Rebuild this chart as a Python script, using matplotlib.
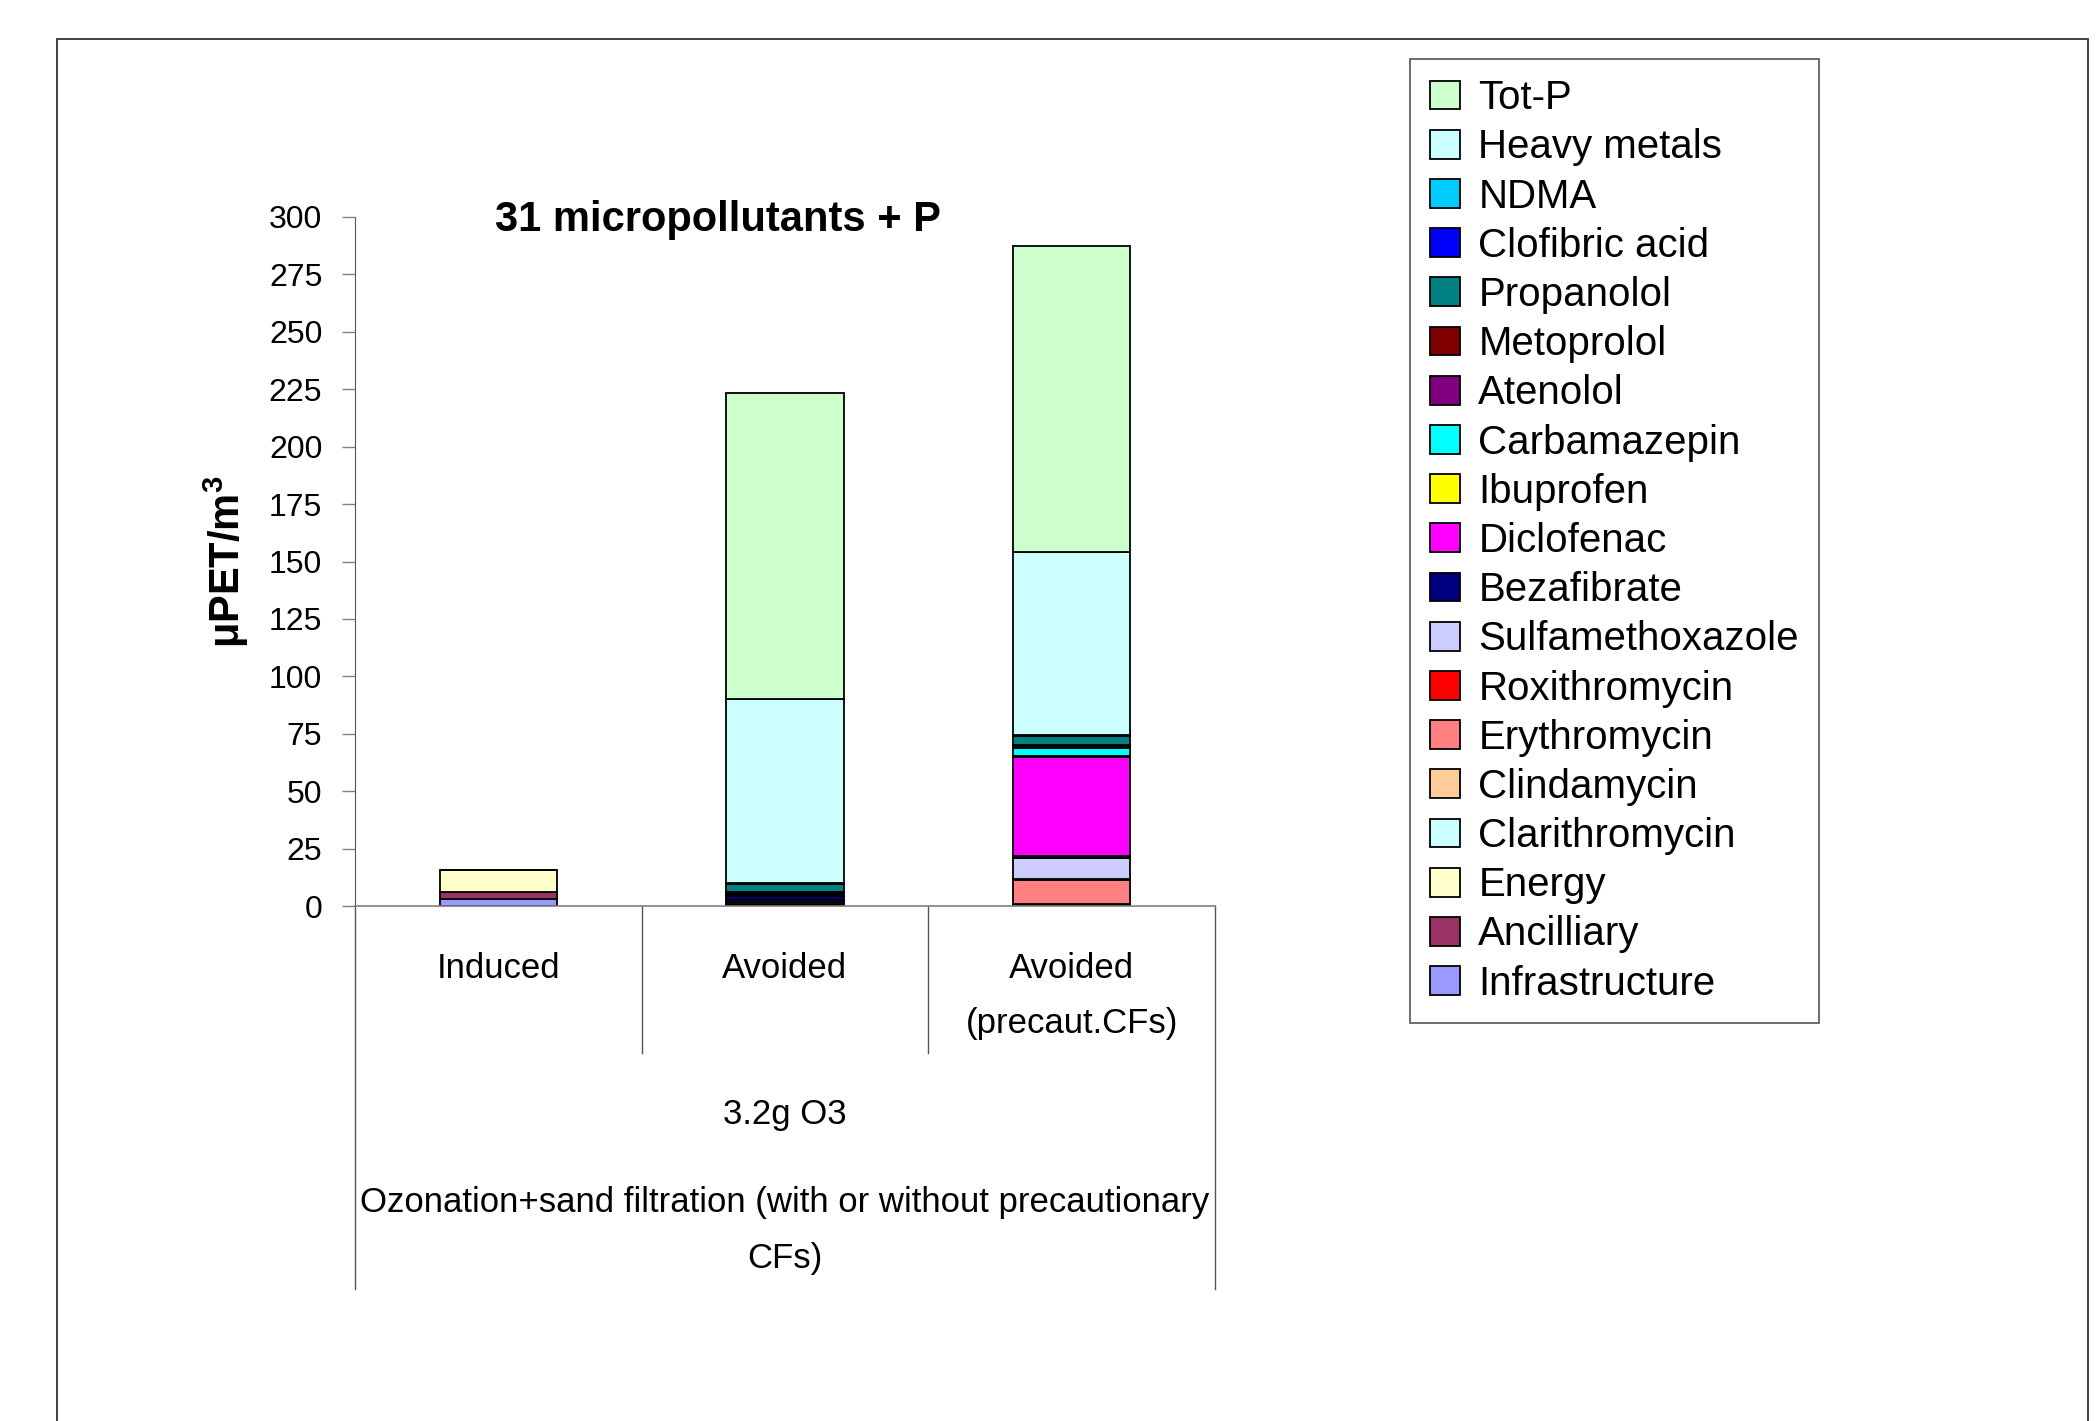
import numpy as np
import matplotlib.pyplot as plt
from matplotlib.patches import Rectangle

plt.rcParams['font.family'] = ['Liberation Sans', 'DejaVu Sans']
plt.rcParams['mathtext.fontset'] = 'custom'
plt.rcParams['mathtext.bf'] = 'Liberation Sans:bold'
plt.rcParams['mathtext.rm'] = 'Liberation Sans:bold'

# stacking order, bottom to top
series = ['Infrastructure', 'Ancilliary', 'Energy', 'Clarithromycin', 'Clindamycin',
          'Erythromycin', 'Roxithromycin', 'Sulfamethoxazole', 'Bezafibrate',
          'Diclofenac', 'Ibuprofen', 'Carbamazepin', 'Atenolol', 'Metoprolol',
          'Propanolol', 'Clofibric acid', 'NDMA', 'Heavy metals', 'Tot-P']
colors = ['#9999FF', '#993366', '#FFFFCC', '#CCFFFF', '#FFCC99',
          '#FF8080', '#FF0000', '#CCCCFF', '#000080',
          '#FF00FF', '#FFFF00', '#00FFFF', '#800080', '#800000',
          '#008080', '#0000FF', '#00CCFF', '#CCFFFF', '#CCFFCC']

categories = ['Induced', 'Avoided', 'Avoided\n(precaut.CFs)']
induced = [3.0, 3.2, 9.5, 0, 0, 0, 0, 0, 0, 0, 0, 0, 0, 0, 0, 0, 0, 0, 0]
avoided = [0, 0, 0, 0.5, 0.3, 0.8, 0.3, 0.8, 1.5, 0.5, 0.2, 0.5, 0.3, 0.3,
           3.6, 0.1, 0.2, 80.3, 133.0]
precaut = [0, 0, 0, 0.6, 0.3, 10.5, 0.5, 9.0, 0.8, 43.2, 0.5, 3.6, 0.5, 0.5,
           4.0, 0.2, 0.3, 79.8, 133.0]
yticks = np.arange(0, 301, 25)

W, H = 2099, 1421
fig = plt.figure(figsize=(W / 100, H / 100), dpi=100)
ax = fig.add_axes([355 / W, 1 - 906 / H, 860 / W, 689 / H])

x = np.arange(len(categories))
vals = np.array([induced, avoided, precaut]).T
bottom = np.zeros(len(categories))
handles = []
for name, col, v in zip(series, colors, vals):
    b = ax.bar(x, v, 0.41, bottom=bottom, color=col, edgecolor='black',
               linewidth=1.3, label=name)
    handles.append(b)
    bottom += v

ax.set_xlim(-0.5, 2.5)
ax.set_ylim(0, 300)
ax.set_yticks(yticks)
ax.tick_params(axis='y', direction='out', length=9.5, width=1, color='#808080',
               labelsize=23, pad=14)
ax.set_xticks([])
for s in ['top', 'right']:
    ax.spines[s].set_visible(False)
ax.spines['left'].set_color('#555555')
ax.spines['bottom'].set_color('#808080')
ax.spines['bottom'].set_linewidth(1.2)

ax.set_title('31 micropollutants + P', fontsize=30, fontweight='bold',
             x=0.422, y=0.995, va='center', pad=0)
ax.set_ylabel(r'$\mathbf{\mu PET/m^3}$', fontsize=30, labelpad=13)

# multi-level category axis
tr = ax.get_xaxis_transform()
for xs in [0.5, 1.5]:
    ax.plot([xs, xs], [0, -0.2134], color='#555555', lw=1, transform=tr, clip_on=False)
for xs in [-0.5, 2.5]:
    ax.plot([xs, xs], [0, -0.556], color='#555555', lw=1, transform=tr, clip_on=False)
lab_kw = dict(transform=tr, ha='center', va='center', fontsize=25)
ax.text(0, -0.090, 'Induced', **lab_kw)
ax.text(1, -0.090, 'Avoided', **lab_kw)
ax.text(2, -0.090, 'Avoided', **lab_kw)
ax.text(2, -0.171, '(precaut.CFs)', **lab_kw)
ax.text(1, -0.3033, '3.2g O3', **lab_kw)
ax.text(1, -0.431, 'Ozonation+sand filtration (with or without precautionary', **lab_kw)
ax.text(1, -0.511, 'CFs)', **lab_kw)

leg = fig.legend(handles[::-1], series[::-1], loc='upper left',
                 bbox_to_anchor=(1410 / W, 1 - 59 / H), borderaxespad=0,
                 fancybox=False, framealpha=1, edgecolor='#555555',
                 prop={'size': 29},
                 handlelength=0.745, handleheight=0.72, handletextpad=0.45,
                 borderpad=0.5, labelspacing=0.278)
leg.get_frame().set_linewidth(1.2)

fig.add_artist(Rectangle((57 / W, -0.05), (2088 - 57) / W, 1 - 39 / H + 0.05,
                         transform=fig.transFigure, fill=False, ec='#333333', lw=1.3))

fig.savefig('out.png', dpi=100)
